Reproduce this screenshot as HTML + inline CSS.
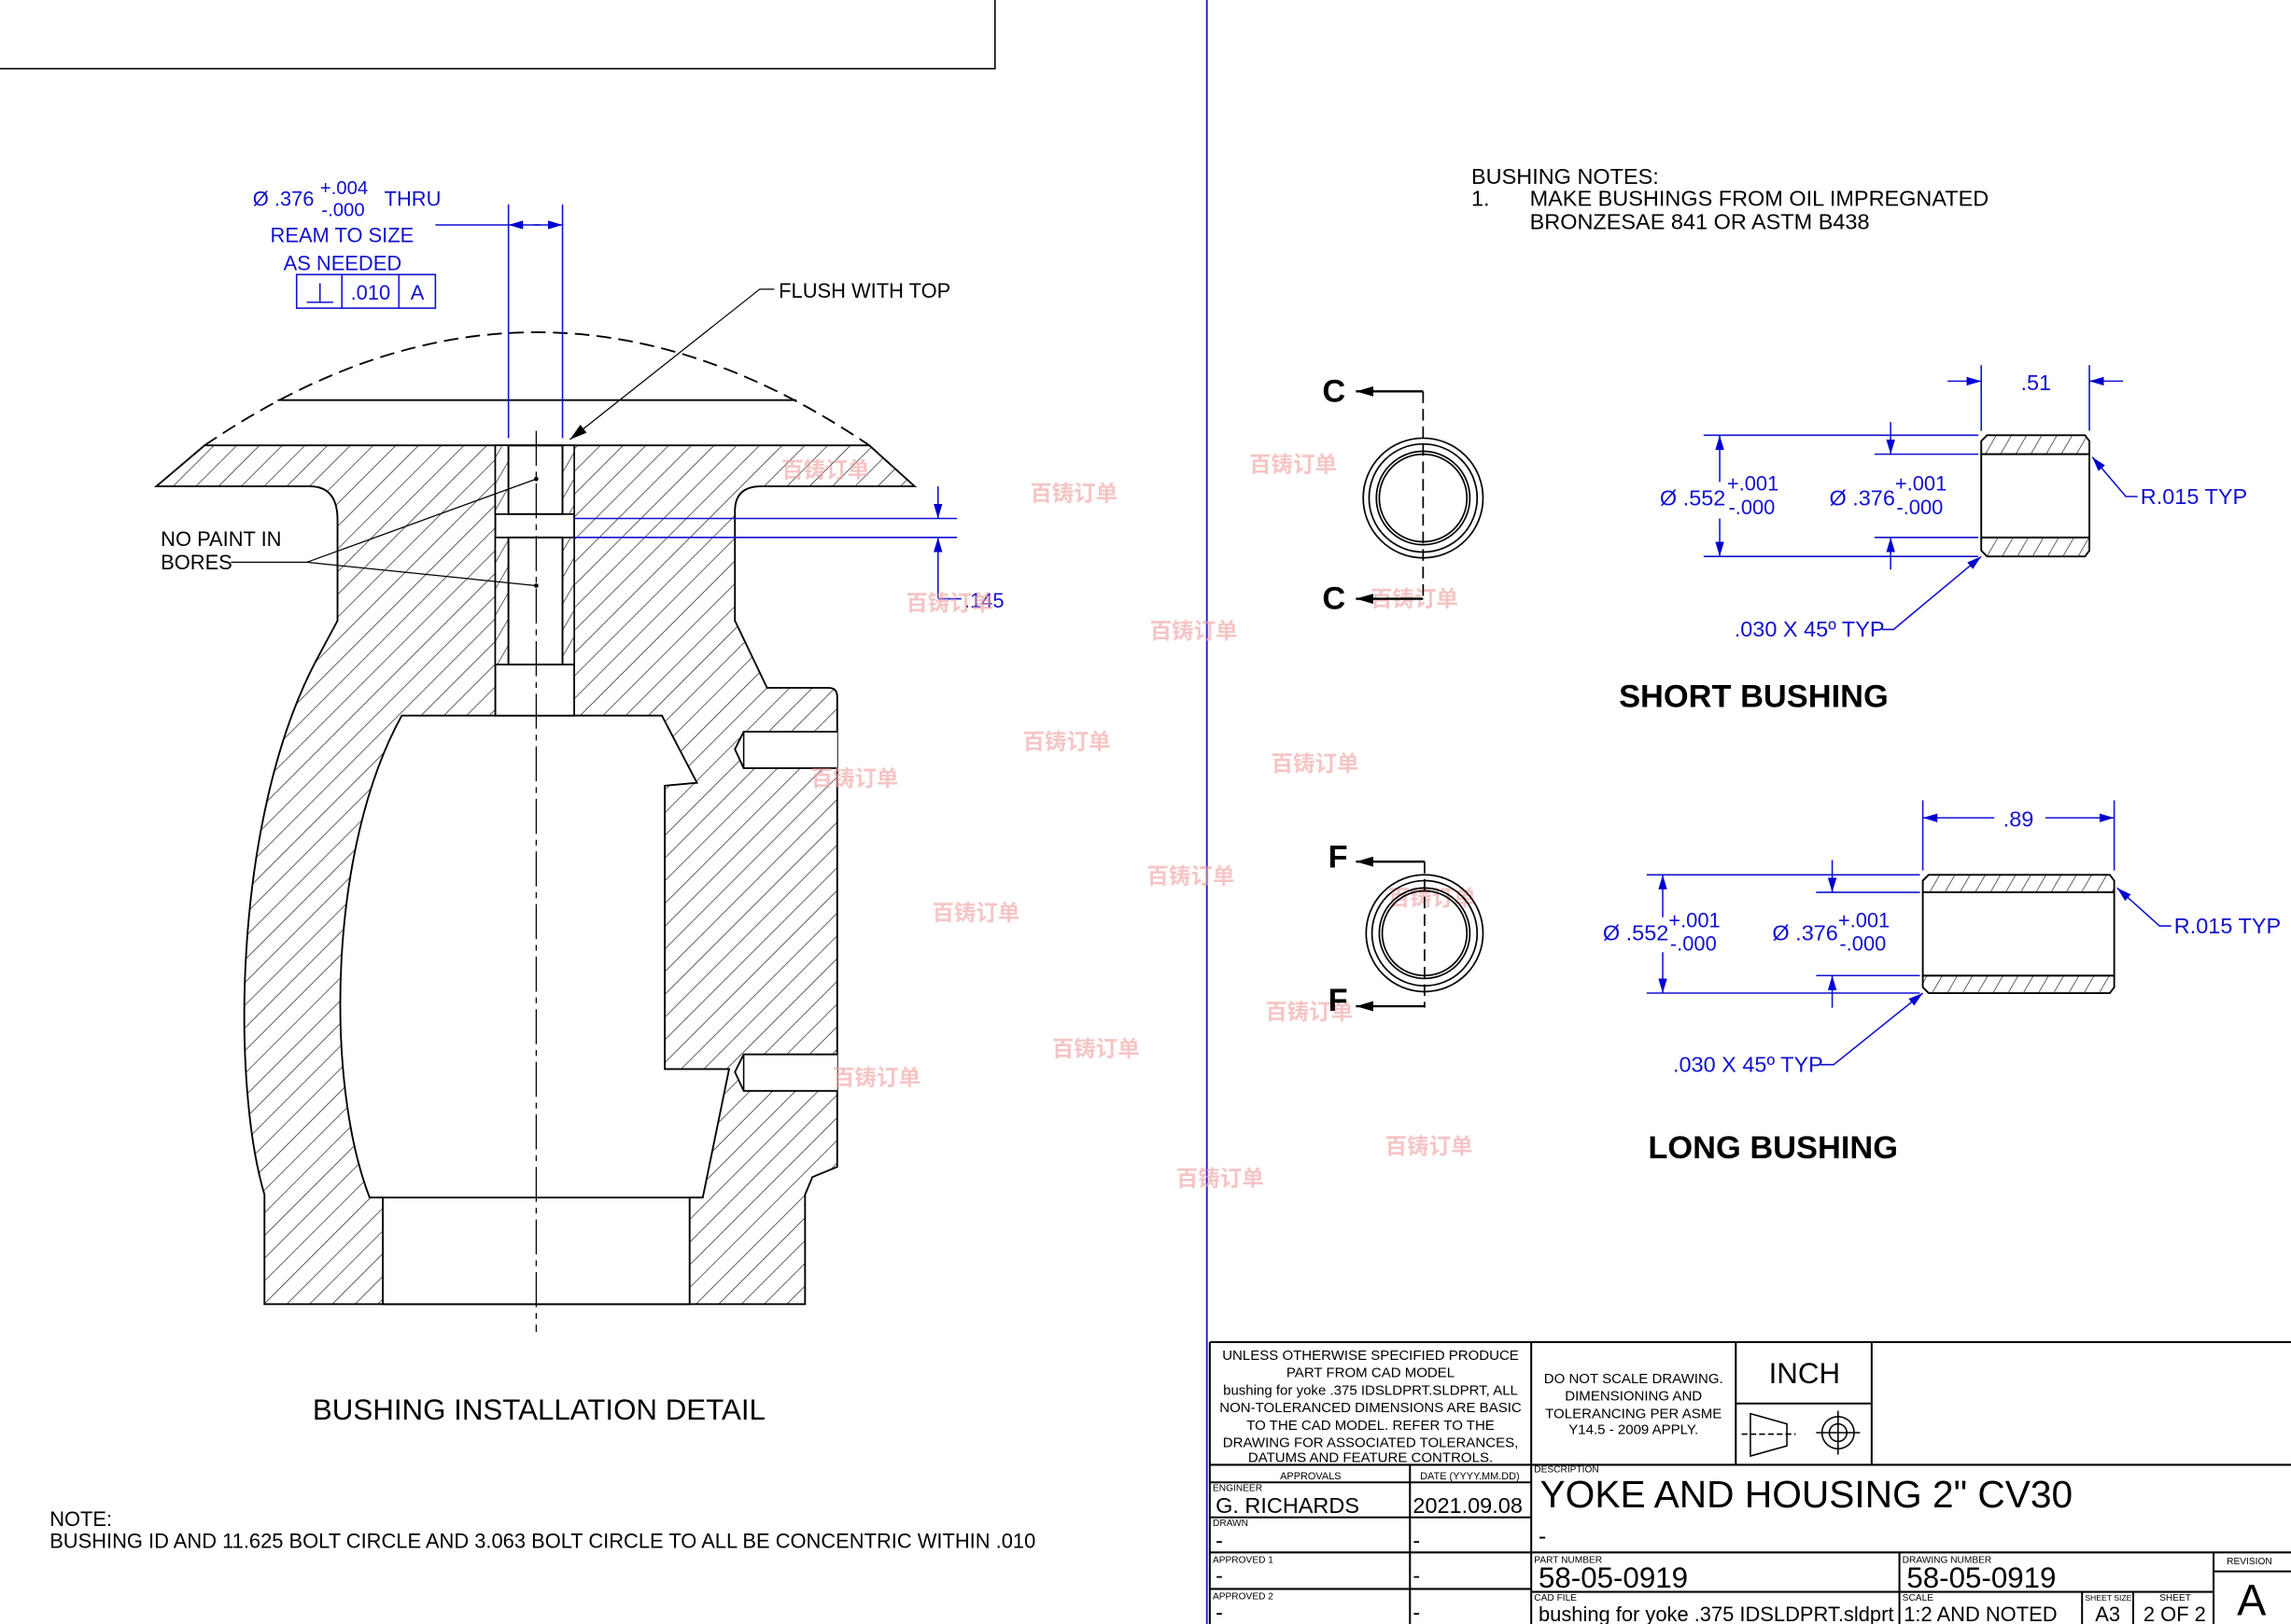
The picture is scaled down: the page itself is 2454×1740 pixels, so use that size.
<!DOCTYPE html>
<html><head><meta charset="utf-8"><style>
html,body{margin:0;padding:0;background:#fff;}
svg{display:block;}
text{font-family:"Liberation Sans","Noto Sans CJK SC",sans-serif;}
</style></head><body>
<svg width="2454" height="1740" viewBox="0 0 1568 1112" preserveAspectRatio="none" xmlns="http://www.w3.org/2000/svg">
<defs>
<pattern id="h" patternUnits="userSpaceOnUse" width="11" height="11" patternTransform="rotate(45)">
<rect width="11" height="11" fill="#fff"/><line x1="0" y1="0" x2="0" y2="11" stroke="#222" stroke-width="0.9"/></pattern>
<pattern id="h2" patternUnits="userSpaceOnUse" width="9" height="9" patternTransform="rotate(30)">
<rect width="9" height="9" fill="#fff"/><line x1="0" y1="0" x2="0" y2="9" stroke="#222" stroke-width="0.9"/></pattern>
<marker id="ab" markerWidth="10" markerHeight="6" refX="10" refY="3" orient="auto" markerUnits="userSpaceOnUse"><path d="M0,0 L10,3 L0,6Z" fill="#0000d0"/></marker>
<marker id="ak" markerWidth="12" markerHeight="7" refX="12" refY="3.5" orient="auto" markerUnits="userSpaceOnUse"><path d="M0,0 L12,3.5 L0,7Z" fill="#000"/></marker>
</defs>
<rect width="1568" height="1112" fill="#fff"/>
<path d="M0,47 L681,47 L681,0" fill="none" stroke="#000" stroke-width="1"/>
<line x1="826" y1="0" x2="826" y2="1112" stroke="#2020c0" stroke-width="1.2"/>

<path d="M140,305 L595,305 L626,333 L521,333 Q503,333 503,350 L503,425 L525,471 L567,471 Q573,471 573,477 L573,799 L556,806 L551,818 L551,893 L181,893 L181,818 C158,740 160,560 216,453 L231,425 L231,356 Q231,333 212,333 L107,333 Z" fill="url(#h)" stroke="#000" stroke-width="1.2"/>
<path d="M275,490 L453,490 L477,536 L455,538 L455,732 L499,732 L481,820 L472,820 L472,893 L262,893 L262,820 L253,820 C222,740 225,580 275,490 Z" fill="#fff" stroke="#000" stroke-width="1.2"/>
<line x1="253" y1="820" x2="481" y2="820" stroke="#000" stroke-width="1.2"/>
<path d="M573,501 L509,501 L503,513 L509,526 L573,526" fill="#fff" stroke="#000" stroke-width="1.2"/>
<line x1="509" y1="501" x2="509" y2="526" stroke="#000"/>
<path d="M573,722 L509,722 L503,734 L509,747 L573,747" fill="#fff" stroke="#000" stroke-width="1.2"/>
<line x1="509" y1="722" x2="509" y2="747" stroke="#000"/>
<rect x="339" y="305" width="54" height="185" fill="#fff" stroke="#000" stroke-width="1.2"/>
<rect x="339" y="305" width="9" height="47" fill="url(#h2)" stroke="#000"/>
<rect x="385" y="305" width="8" height="47" fill="url(#h2)" stroke="#000"/>
<rect x="339" y="368" width="9" height="87" fill="url(#h2)" stroke="#000"/>
<rect x="385" y="368" width="8" height="87" fill="url(#h2)" stroke="#000"/>
<rect x="348" y="305" width="37" height="47" fill="none" stroke="#000" stroke-width="1.2"/>
<rect x="348" y="368" width="37" height="87" fill="none" stroke="#000" stroke-width="1.2"/>
<line x1="339" y1="352" x2="393" y2="352" stroke="#000"/>
<line x1="339" y1="368" x2="393" y2="368" stroke="#000"/>
<line x1="339" y1="455" x2="393" y2="455" stroke="#000"/>
<path d="M140,305 Q367,150 595,305" fill="none" stroke="#000" stroke-width="1.2" stroke-dasharray="10,5"/>
<line x1="190" y1="274" x2="545" y2="274" stroke="#000" stroke-width="1.2"/>
<line x1="367" y1="295" x2="367" y2="912" stroke="#000" stroke-width="0.8" stroke-dasharray="24,4,4,4"/>
<text x="110" y="374" font-size="14">NO PAINT IN</text>
<text x="110" y="390" font-size="14">BORES</text>
<path d="M158,385 L210,385 L367,328 M210,385 L367,401" fill="none" stroke="#000" stroke-width="0.8"/>
<circle cx="367" cy="328" r="1.5"/><circle cx="367" cy="401" r="1.5"/>
<text x="533" y="204" font-size="14">FLUSH WITH TOP</text>
<path d="M530,198 L520,198 L390,301" fill="none" stroke="#000" stroke-width="0.8" marker-end="url(#ak)"/>

<g fill="#1010d0" font-size="14">
<text x="173" y="141">Ø .376</text><text x="219" y="133" font-size="13">+.004</text><text x="220" y="148" font-size="13">-.000</text><text x="263" y="141">THRU</text>
<text x="185" y="166">REAM TO SIZE</text><text x="194" y="185">AS NEEDED</text>
<text x="240" y="205">.010</text><text x="281" y="205">A</text>
</g>
<g stroke="#1010d0" fill="none" stroke-width="1">
<rect x="203" y="188" width="95" height="23"/><line x1="234" y1="188" x2="234" y2="211"/><line x1="273" y1="188" x2="273" y2="211"/>
<path d="M210,207 L228,207 M219,194 L219,207"/>
<line x1="348" y1="140" x2="348" y2="300"/><line x1="385" y1="140" x2="385" y2="300"/>
<line x1="298" y1="154" x2="348" y2="154"/>
<line x1="370" y1="154" x2="348" y2="154" marker-end="url(#ab)"/>
<line x1="365" y1="154" x2="385" y2="154" marker-end="url(#ab)"/>
<line x1="393" y1="355" x2="655" y2="355"/><line x1="393" y1="368" x2="655" y2="368"/>
<line x1="642" y1="333" x2="642" y2="355" marker-end="url(#ab)"/>
<line x1="642" y1="410" x2="642" y2="368" marker-end="url(#ab)"/>
<line x1="642" y1="410" x2="658" y2="410"/>
</g>
<text x="660" y="416" font-size="14" fill="#1010d0">.145</text>

<text x="214" y="972" font-size="20">BUSHING INSTALLATION DETAIL</text>
<text x="34" y="1045" font-size="14">NOTE:</text>
<text x="34" y="1060" font-size="14">BUSHING ID AND 11.625 BOLT CIRCLE AND 3.063 BOLT CIRCLE TO ALL BE CONCENTRIC WITHIN .010</text>

<g fill="#f0a0a0" font-size="15" font-weight="bold" opacity="0.6">
<text x="535" y="327">百铸订单</text><text x="705" y="343">百铸订单</text><text x="855" y="323">百铸订单</text>
<text x="620" y="418">百铸订单</text><text x="787" y="437">百铸订单</text><text x="700" y="513">百铸订单</text>
<text x="870" y="528">百铸订单</text><text x="555" y="538">百铸订单</text><text x="785" y="605">百铸订单</text>
<text x="638" y="630">百铸订单</text><text x="950" y="620">百铸订单</text><text x="866" y="698">百铸订单</text>
<text x="720" y="723">百铸订单</text><text x="570" y="743">百铸订单</text><text x="948" y="790">百铸订单</text>
<text x="805" y="812">百铸订单</text><text x="938" y="415">百铸订单</text>
</g>

<g font-size="15">
<text x="1007" y="126">BUSHING NOTES:</text>
<text x="1007" y="141">1.</text><text x="1047" y="141">MAKE BUSHINGS FROM OIL IMPREGNATED</text>
<text x="1047" y="157">BRONZESAE 841 OR ASTM B438</text>
</g>

<g fill="none" stroke="#000" stroke-width="1.1">
<circle cx="974" cy="341" r="41"/><circle cx="974" cy="341" r="37"/><circle cx="974" cy="341" r="32"/><circle cx="974" cy="341" r="30"/>
<line x1="974" y1="268" x2="974" y2="410" stroke-dasharray="8,4"/>
<line x1="974" y1="268" x2="928" y2="268" stroke-width="1.5" marker-end="url(#ak)"/>
<line x1="974" y1="410" x2="928" y2="410" stroke-width="1.5" marker-end="url(#ak)"/>
</g>
<text x="905" y="275" font-size="22" font-weight="bold">C</text>
<text x="905" y="417" font-size="22" font-weight="bold">C</text>

<path d="M1360,298 L1427,298 L1430,302 L1430,311 L1356,311 L1356,302Z" fill="url(#h2)" stroke="#000" stroke-width="1.2"/>
<path d="M1356,368 L1430,368 L1430,377 L1427,381 L1360,381 L1356,377Z" fill="url(#h2)" stroke="#000" stroke-width="1.2"/>
<rect x="1356" y="311" width="74" height="57" fill="#fff" stroke="#000" stroke-width="1.2"/>
<g stroke="#1010d0" fill="none" stroke-width="1">
<line x1="1356" y1="250" x2="1356" y2="295"/><line x1="1430" y1="250" x2="1430" y2="295"/>
<line x1="1333" y1="261" x2="1356" y2="261" marker-end="url(#ab)"/><line x1="1453" y1="261" x2="1430" y2="261" marker-end="url(#ab)"/>
<line x1="1166" y1="298" x2="1354" y2="298"/><line x1="1166" y1="381" x2="1354" y2="381"/>
<line x1="1177" y1="330" x2="1177" y2="298" marker-end="url(#ab)"/><line x1="1177" y1="355" x2="1177" y2="381" marker-end="url(#ab)"/>
<line x1="1283" y1="311" x2="1354" y2="311"/><line x1="1283" y1="368" x2="1354" y2="368"/>
<line x1="1294" y1="289" x2="1294" y2="311" marker-end="url(#ab)"/><line x1="1294" y1="390" x2="1294" y2="368" marker-end="url(#ab)"/>
<path d="M1463,340 L1455,340 L1432,313" marker-end="url(#ab)"/>
<path d="M1288,431 L1296,431 L1356,381" marker-end="url(#ab)"/>
</g>
<g fill="#1010d0" font-size="15">
<text x="1383" y="267">.51</text>
<text x="1136" y="346">Ø .552</text><text x="1182" y="336" font-size="14">+.001</text><text x="1183" y="352" font-size="14">-.000</text>
<text x="1252" y="346">Ø .376</text><text x="1297" y="336" font-size="14">+.001</text><text x="1298" y="352" font-size="14">-.000</text>
<text x="1465" y="345">R.015 TYP</text>
<text x="1187" y="436">.030 X 45º TYP</text>
</g>
<text x="1108" y="484" font-size="22" font-weight="bold">SHORT BUSHING</text>

<g fill="none" stroke="#000" stroke-width="1.1">
<circle cx="975" cy="639" r="40"/><circle cx="975" cy="639" r="36"/><circle cx="975" cy="639" r="31"/><circle cx="975" cy="639" r="29"/>
<line x1="975" y1="590" x2="975" y2="690" stroke-dasharray="8,4"/>
<line x1="975" y1="590" x2="928" y2="590" stroke-width="1.5" marker-end="url(#ak)"/>
<line x1="975" y1="689" x2="928" y2="689" stroke-width="1.5" marker-end="url(#ak)"/>
</g>
<text x="909" y="594" font-size="22" font-weight="bold">F</text>
<text x="909" y="692" font-size="22" font-weight="bold">F</text>

<path d="M1320,599 L1444,599 L1447,603 L1447,611 L1316,611 L1316,603Z" fill="url(#h2)" stroke="#000" stroke-width="1.2"/>
<path d="M1316,668 L1447,668 L1447,676 L1444,680 L1320,680 L1316,676Z" fill="url(#h2)" stroke="#000" stroke-width="1.2"/>
<rect x="1316" y="611" width="131" height="57" fill="#fff" stroke="#000" stroke-width="1.2"/>
<g stroke="#1010d0" fill="none" stroke-width="1">
<line x1="1316" y1="548" x2="1316" y2="596"/><line x1="1447" y1="548" x2="1447" y2="596"/>
<line x1="1365" y1="560" x2="1316" y2="560" marker-end="url(#ab)"/><line x1="1400" y1="560" x2="1447" y2="560" marker-end="url(#ab)"/>
<line x1="1127" y1="599" x2="1314" y2="599"/><line x1="1127" y1="680" x2="1314" y2="680"/>
<line x1="1138" y1="628" x2="1138" y2="599" marker-end="url(#ab)"/><line x1="1138" y1="652" x2="1138" y2="680" marker-end="url(#ab)"/>
<line x1="1243" y1="611" x2="1314" y2="611"/><line x1="1243" y1="668" x2="1314" y2="668"/>
<line x1="1254" y1="589" x2="1254" y2="611" marker-end="url(#ab)"/><line x1="1254" y1="690" x2="1254" y2="668" marker-end="url(#ab)"/>
<path d="M1486,634 L1478,634 L1449,608" marker-end="url(#ab)"/>
<path d="M1246,729 L1255,729 L1316,680" marker-end="url(#ab)"/>
</g>
<g fill="#1010d0" font-size="15">
<text x="1371" y="566">.89</text>
<text x="1097" y="644">Ø .552</text><text x="1142" y="635" font-size="14">+.001</text><text x="1143" y="651" font-size="14">-.000</text>
<text x="1213" y="644">Ø .376</text><text x="1258" y="635" font-size="14">+.001</text><text x="1259" y="651" font-size="14">-.000</text>
<text x="1488" y="639">R.015 TYP</text>
<text x="1145" y="734">.030 X 45º TYP</text>
</g>
<text x="1128" y="793" font-size="22" font-weight="bold">LONG BUSHING</text>

<g fill="none" stroke="#000" stroke-width="1.3">
<line x1="828" y1="919" x2="1568" y2="919"/>
<line x1="828" y1="919" x2="828" y2="1112"/>
<line x1="1048" y1="919" x2="1048" y2="1112"/>
<line x1="1188" y1="919" x2="1188" y2="1003"/>
<line x1="1281" y1="919" x2="1281" y2="1003"/>
<line x1="1188" y1="961" x2="1281" y2="961"/>
<line x1="828" y1="1003" x2="1568" y2="1003"/>
<line x1="828" y1="1015" x2="1048" y2="1015"/>
<line x1="828" y1="1039" x2="1048" y2="1039"/>
<line x1="828" y1="1063" x2="1568" y2="1063"/>
<line x1="828" y1="1088" x2="1048" y2="1088"/>
<line x1="1048" y1="1090" x2="1515" y2="1090"/>
<line x1="965" y1="1003" x2="965" y2="1112"/>
<line x1="1300" y1="1063" x2="1300" y2="1112"/>
<line x1="1515" y1="1063" x2="1515" y2="1112"/>
<line x1="1515" y1="1076" x2="1568" y2="1076"/>
<line x1="1425" y1="1090" x2="1425" y2="1112"/>
<line x1="1460" y1="1090" x2="1460" y2="1112"/>
<path d="M1198,968 L1223,975 L1223,990 L1198,997 Z" stroke-width="1"/>
<line x1="1192" y1="982" x2="1229" y2="982" stroke-width="1" stroke-dasharray="4,2"/>
<circle cx="1258" cy="981" r="11" stroke-width="1"/><circle cx="1258" cy="981" r="6" stroke-width="1"/>
<line x1="1243" y1="981" x2="1273" y2="981" stroke-width="1"/><line x1="1258" y1="966" x2="1258" y2="996" stroke-width="1"/>
</g>
<g font-size="9.6" text-anchor="middle">
<text x="938" y="931">UNLESS OTHERWISE SPECIFIED PRODUCE</text>
<text x="938" y="943">PART FROM CAD MODEL</text>
<text x="938" y="955">bushing for yoke .375 IDSLDPRT.SLDPRT, ALL</text>
<text x="938" y="967">NON-TOLERANCED DIMENSIONS ARE BASIC</text>
<text x="938" y="979">TO THE CAD MODEL.  REFER TO THE</text>
<text x="938" y="991">DRAWING FOR ASSOCIATED TOLERANCES,</text>
<text x="938" y="1001">DATUMS AND FEATURE CONTROLS.</text>
<text x="1118" y="947">DO NOT SCALE DRAWING.</text>
<text x="1118" y="959">DIMENSIONING AND</text>
<text x="1118" y="971">TOLERANCING PER ASME</text>
<text x="1118" y="982">Y14.5 - 2009 APPLY.</text>
<text x="897" y="1013" font-size="7">APPROVALS</text>
<text x="1006" y="1013" font-size="7">DATE (YYYY.MM.DD)</text>
</g>
<text x="1235" y="947" font-size="20" text-anchor="middle">INCH</text>
<g font-size="6.5">
<text x="830" y="1021">ENGINEER</text><text x="830" y="1045">DRAWN</text><text x="830" y="1070">APPROVED 1</text><text x="830" y="1095">APPROVED 2</text>
<text x="1050" y="1008">DESCRIPTION</text><text x="1050" y="1070">PART NUMBER</text><text x="1302" y="1070">DRAWING NUMBER</text>
<text x="1524" y="1071">REVISION</text><text x="1050" y="1096">CAD FILE</text><text x="1302" y="1096">SCALE</text>
<text x="1427" y="1096" font-size="5.5">SHEET SIZE</text><text x="1478" y="1096">SHEET</text>
</g>
<g font-size="15">
<text x="832" y="1036">G. RICHARDS</text><text x="967" y="1036">2021.09.08</text>
<text x="832" y="1060">-</text><text x="967" y="1060">-</text>
<text x="832" y="1084">-</text><text x="967" y="1084">-</text>
<text x="832" y="1109">-</text><text x="967" y="1109">-</text>
<text x="1053" y="1110" font-size="14">bushing for yoke .375 IDSLDPRT.sldprt</text>
<text x="1303" y="1110" font-size="14">1:2 AND NOTED</text>
<text x="1434" y="1110" font-size="14">A3</text><text x="1467" y="1110" font-size="14">2 OF 2</text>
</g>
<text x="1054" y="1032" font-size="26">YOKE AND HOUSING 2" CV30</text>
<text x="1053" y="1057" font-size="16">-</text>
<text x="1053" y="1087" font-size="20">58-05-0919</text>
<text x="1305" y="1087" font-size="20">58-05-0919</text>
<text x="1531" y="1106" font-size="30">A</text>
</svg>
</body></html>
